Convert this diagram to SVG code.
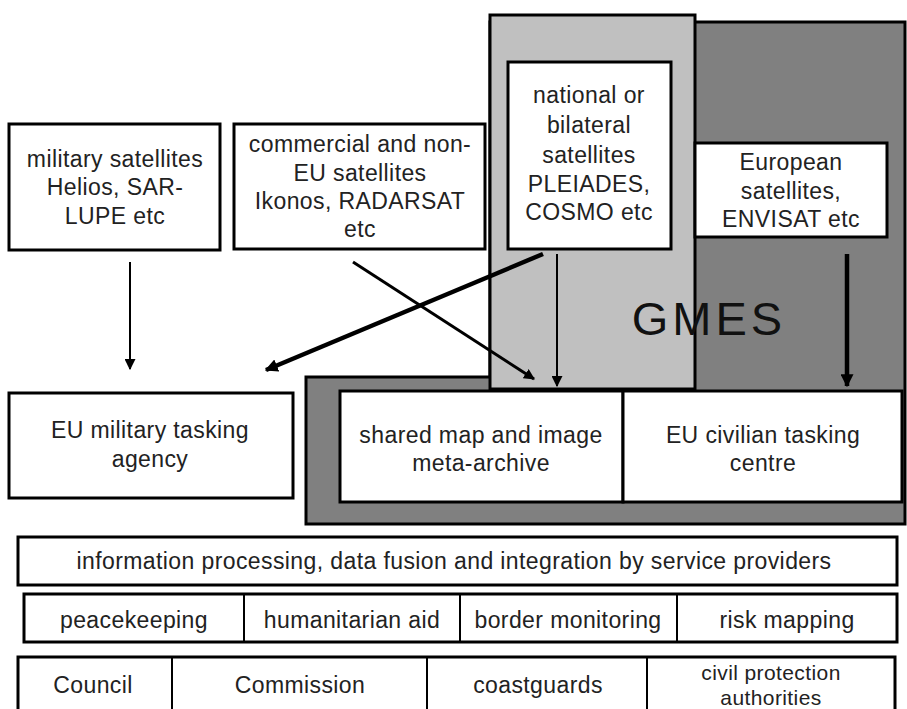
<svg xmlns="http://www.w3.org/2000/svg" width="907" height="709" viewBox="0 0 907 709">
<style>
  text { font-family: "Liberation Sans", Arial, sans-serif; font-size: 23px; fill: #222; text-anchor: middle; letter-spacing: 0.4px; }
  .box { fill: #fff; stroke: #000; stroke-width: 3; }
  .div { stroke: #000; stroke-width: 2; }
  .thin { stroke: #000; stroke-width: 2; fill: none; }
  .mid { stroke: #000; stroke-width: 3; fill: none; }
  .thick { stroke: #000; stroke-width: 4.5; fill: none; }
  .small { font-size: 21px; }
</style>
<defs>
  <marker id="ah" viewBox="0 0 10 10" refX="9" refY="5" markerWidth="11" markerHeight="11" markerUnits="userSpaceOnUse" orient="auto">
    <path d="M0,0 L10,5 L0,10 z" fill="#000"/>
  </marker>
  <marker id="ahb" viewBox="0 0 10 10" refX="9" refY="5" markerWidth="13" markerHeight="13" markerUnits="userSpaceOnUse" orient="auto">
    <path d="M0,0 L10,5 L0,10 z" fill="#000"/>
  </marker>
</defs>
<rect width="907" height="709" fill="#fff"/>

<g id="gmes">
  <path d="M306,377 L490,377 L490,22 L905,22 L905,524 L306,524 Z" fill="#808080" stroke="#000" stroke-width="3"/>
  <rect x="490" y="15" width="205" height="374" fill="#c0c0c0" stroke="#000" stroke-width="3"/>
  <text x="709" y="335" style="font-size:47px; letter-spacing:4px; fill:#111">GMES</text>
</g>

<g id="military-satellites">
  <rect class="box" x="9" y="124" width="211" height="126"/>
  <text x="115" y="167">military satellites</text>
  <text x="115" y="195">Helios, SAR-</text>
  <text x="115" y="224">LUPE etc</text>
</g>

<g id="commercial-satellites">
  <rect class="box" x="234" y="124" width="251" height="125"/>
  <text x="360" y="152">commercial and non-</text>
  <text x="360" y="181">EU satellites</text>
  <text x="360" y="209">Ikonos, RADARSAT</text>
  <text x="360" y="237">etc</text>
</g>

<g id="national-satellites">
  <rect class="box" x="508" y="62" width="163" height="187"/>
  <text x="589" y="103">national or</text>
  <text x="589" y="133">bilateral</text>
  <text x="589" y="163">satellites</text>
  <text x="589" y="192">PLEIADES,</text>
  <text x="589" y="220">COSMO etc</text>
</g>

<g id="european-satellites">
  <rect class="box" x="695" y="143" width="192" height="94"/>
  <text x="791" y="170">European</text>
  <text x="791" y="199">satellites,</text>
  <text x="791" y="227">ENVISAT etc</text>
</g>

<g id="eu-military-tasking">
  <rect class="box" x="9" y="393" width="284" height="105"/>
  <text x="150" y="438">EU military tasking</text>
  <text x="150" y="467">agency</text>
</g>

<g id="shared-archive">
  <rect class="box" x="340" y="391" width="283" height="111"/>
  <text x="481" y="443">shared map and image</text>
  <text x="481" y="471">meta-archive</text>
</g>

<g id="eu-civilian-tasking">
  <rect class="box" x="623" y="391" width="279" height="111"/>
  <text x="763" y="443">EU civilian tasking</text>
  <text x="763" y="471">centre</text>
</g>

<g id="information-processing">
  <rect class="box" x="18" y="537" width="879" height="48"/>
  <text x="454" y="569">information processing, data fusion and integration by service providers</text>
</g>

<g id="applications">
  <rect class="box" x="24" y="594" width="873" height="48"/>
  <line class="div" x1="244" y1="594" x2="244" y2="642"/>
  <line class="div" x1="460" y1="594" x2="460" y2="642"/>
  <line class="div" x1="677" y1="594" x2="677" y2="642"/>
  <text x="134" y="628">peacekeeping</text>
  <text x="352" y="628">humanitarian aid</text>
  <text x="568" y="628">border monitoring</text>
  <text x="787" y="628">risk mapping</text>
</g>

<g id="users">
  <rect class="box" x="18" y="657" width="877" height="70"/>
  <line class="div" x1="172" y1="657" x2="172" y2="709"/>
  <line class="div" x1="427" y1="657" x2="427" y2="709"/>
  <line class="div" x1="647" y1="657" x2="647" y2="709"/>
  <text x="93" y="693">Council</text>
  <text x="300" y="693">Commission</text>
  <text x="538" y="693">coastguards</text>
  <text class="small" x="771" y="680">civil protection</text>
  <text class="small" x="771" y="705">authorities</text>
</g>

<g id="connectors">
  <line class="thin" x1="130" y1="262" x2="130" y2="369" marker-end="url(#ah)"/>
  <line class="mid" x1="353" y1="262" x2="534" y2="379" marker-end="url(#ah)"/>
  <line class="thick" x1="543" y1="254" x2="266" y2="370" marker-end="url(#ahb)"/>
  <line class="thin" x1="557" y1="254" x2="557" y2="386" marker-end="url(#ah)"/>
  <line class="thick" x1="847" y1="254" x2="847" y2="386" marker-end="url(#ahb)"/>
</g>
</svg>
